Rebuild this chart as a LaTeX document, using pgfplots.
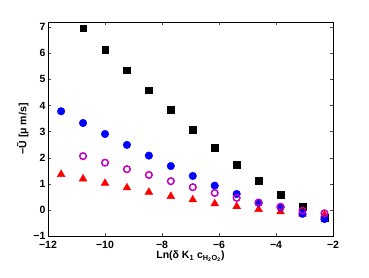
\documentclass[border=0pt]{standalone}
\usepackage{pgfplots}
\pgfplotsset{compat=1.18}
\usepackage{fontspec}
\setmainfont{Liberation Sans}
\definecolor{mag}{rgb}{0.75,0,0.75}
\begin{document}
\begin{tikzpicture}[x=1pt,y=1pt]
\useasboundingbox (-48,-42) rectangle (321,236);
\begin{axis}[
  at={(0,0)}, anchor=south west,
  scale only axis, width=285pt, height=214pt,
  xmin=-12, xmax=-2, ymin=-1, ymax=7.2,
  xtick={-12,-10,-8,-6,-4,-2},
  xticklabels={−12,−10,−8,−6,−4,−2},
  ytick={-1,0,1,2,3,4,5,6,7},
  yticklabels={−1,0,1,2,3,4,5,6,7},
  tick align=inside,
  xtick pos=both, ytick pos=both,
  major tick length=3pt,
  tick style={black!70, line width=0.4pt},
  axis line style={line width=0.6pt},
  ticklabel style={font=\fontsize{10.5}{12}\selectfont\bfseries},
  xticklabel style={yshift=-1.5pt},
  yticklabel style={xshift=1pt},
  xlabel={Ln(δ K\textsubscript{1} c\textsubscript{H\textsubscript{2}O\textsubscript{2}})},
  ylabel={−Ũ [μ m/s]},
  label style={font=\fontsize{10.5}{12}\selectfont\bfseries},
  xlabel style={yshift=4pt},
  ylabel style={yshift=-2pt},
  clip=false,
]
\addplot[only marks, mark=square*, mark size=3.3pt, mark options={fill=black, draw=black}] coordinates {
(-10.77,6.96) (-10.00,6.15) (-9.23,5.36) (-8.46,4.59) (-7.69,3.83) (-6.92,3.08)
(-6.15,2.39) (-5.38,1.74) (-4.61,1.12) (-3.84,0.59) (-3.07,0.13) (-2.30,-0.31)
};
\addplot[only marks, mark=triangle*, mark size=4.5pt, mark options={fill=red, draw=red}] coordinates {
(-11.54,1.36) (-10.77,1.19) (-10.00,1.02) (-9.23,0.85) (-8.46,0.68) (-7.69,0.52)
(-6.92,0.39) (-6.15,0.24) (-5.38,0.13) (-4.61,0.02) (-3.84,-0.07) (-3.07,-0.15) (-2.30,-0.19)
};
\addplot[only marks, mark=*, mark size=3.8pt, mark options={fill=blue, draw=blue}] coordinates {
(-11.54,3.78) (-10.77,3.33) (-10.00,2.91) (-9.23,2.49) (-8.46,2.08) (-7.69,1.68)
(-6.92,1.30) (-6.15,0.93) (-5.38,0.61) (-4.61,0.27) (-3.84,0.10) (-3.07,-0.15) (-2.30,-0.35)
};
\addplot[only marks, mark=o, mark size=3.3pt, mark options={draw=mag, line width=1.5pt}] coordinates {
(-10.77,2.06) (-10.00,1.81) (-9.23,1.56) (-8.46,1.34) (-7.69,1.10) (-6.92,0.87)
(-6.15,0.65) (-5.38,0.46) (-4.61,0.28) (-3.84,0.12) (-3.07,-0.03) (-2.30,-0.13)
};
\end{axis}
\end{tikzpicture}
\end{document}
